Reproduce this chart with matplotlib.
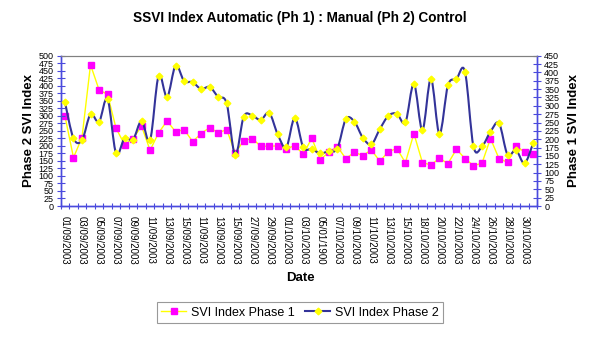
import numpy as np
import matplotlib
matplotlib.use("Agg")
import matplotlib.pyplot as plt
from matplotlib.path import Path
from matplotlib.patches import PathPatch
from matplotlib.lines import Line2D

plt.rcParams['font.family'] = ['Liberation Sans', 'DejaVu Sans']

title = "SSVI Index Automatic (Ph 1) : Manual (Ph 2) Control"

date_labels = [
    "01/09/2003", "03/09/2003", "05/09/2003", "07/09/2003", "09/09/2003",
    "11/09/2003", "13/09/2003", "15/09/2003", "11/09/2003", "13/09/2003",
    "15/09/2003", "27/09/2003", "29/09/2003", "01/10/2003", "03/10/2003",
    "05/01/1900", "07/10/2003", "09/10/2003", "11/10/2003", "13/10/2003",
    "15/10/2003", "18/10/2003", "20/10/2003", "22/10/2003", "24/10/2003",
    "26/10/2003", "28/10/2003", "30/10/2003",
]

# SVI Index Phase 1 (right axis)
phase1_svi = [
    269, 145, 205, 423, 348, 334, 233, 184, 202, 239, 167, 219, 255, 222,
    229, 193, 217, 235, 219, 229, 158, 196, 202, 179, 179, 180, 171, 181,
    155, 203, 139, 161, 178, 142, 161, 151, 168, 134, 163, 172, 130, 217,
    130, 123, 143, 127, 170, 142, 121, 128, 202, 142, 131, 181, 161, 155,
]

# SVI Index Phase 2 (left axis)
phase2_svi = [
    345, 225, 219, 305, 280, 356, 175, 225, 221, 283, 219, 433, 363, 467,
    416, 412, 389, 396, 363, 341, 169, 297, 301, 286, 310, 238, 195, 293,
    195, 189, 175, 183, 191, 289, 281, 227, 205, 256, 300, 307, 278, 406,
    253, 423, 240, 401, 423, 447, 198, 198, 247, 275, 171, 186, 142, 208,
]

n = len(phase1_svi)
x = np.arange(n)

navy = "#333399"
axis_blue = "#4A4ADD"

fig = plt.figure(figsize=(6.0, 3.39), dpi=100)
ax = fig.add_axes([0.1012, 0.3923, 0.7943, 0.4434])
ax2 = ax.twinx()

# Background on ax2, draw ax (Phase 2) on top
ax2.patch.set_facecolor("#C0C0C0")
ax.set_zorder(ax2.get_zorder() + 1)
ax.patch.set_visible(False)

# Phase 1 on right axis
ax2.plot(x, phase1_svi, color="#FFFF00", lw=1.0, marker="s", markersize=4.5,
         markerfacecolor="#FF00FF", markeredgecolor="#FF00FF", zorder=3)

# Phase 2 smoothed line (Bezier through data points) on left axis
y2 = np.asarray(phase2_svi, dtype=float)
pts = np.column_stack([x.astype(float), y2])
verts = [tuple(pts[0])]
codes = [Path.MOVETO]
for i in range(n - 1):
    p0 = pts[i - 1] if i > 0 else pts[i]
    p1 = pts[i]
    p2 = pts[i + 1]
    p3 = pts[i + 2] if i + 2 < n else pts[i + 1]
    c1 = p1 + (p2 - p0) / 6.0
    c2 = p2 - (p3 - p1) / 6.0
    verts += [tuple(c1), tuple(c2), tuple(p2)]
    codes += [Path.CURVE4] * 3
ax.add_patch(PathPatch(Path(verts, codes), fill=False, edgecolor=navy,
                       lw=1.5, zorder=3))
ax.plot(x, phase2_svi, ls="none", marker="D", markersize=3.4,
        markerfacecolor="#FFFF00", markeredgecolor="#FFFF00", zorder=4)

# Axes limits and ticks
ax.set_xlim(-0.5, n - 0.5)
ax.set_ylim(0, 500)
ax2.set_ylim(0, 450)
ax.set_yticks(np.arange(0, 501, 25))
ax2.set_yticks(np.arange(0, 451, 25))

ax.set_xticks(np.arange(-0.5, n, 1.0))
ax.set_xticklabels([])
ax.set_xticks(np.arange(0, n, 2), minor=True)
ax.set_xticklabels(date_labels, minor=True, rotation=-90, fontsize=7)
ax.tick_params(axis="x", which="major", direction="inout", length=5,
               color=axis_blue, width=0.8)
ax.tick_params(axis="x", which="minor", length=0, pad=7)
ax.tick_params(axis="y", direction="inout", length=6, color=axis_blue,
               width=0.8, labelsize=6.5, pad=2)
ax2.tick_params(axis="y", direction="inout", length=6, color=axis_blue,
                width=0.8, labelsize=6.5, pad=2)
ax2.tick_params(axis="x", length=0)

for a in (ax, ax2):
    for s in ("left", "right", "bottom"):
        a.spines[s].set_color(axis_blue)
        a.spines[s].set_linewidth(1.0)
    a.spines["top"].set_color("#808080")
    a.spines["top"].set_linewidth(0.8)

ax.set_ylabel("Phase 2 SVI Index", fontsize=9.5, fontweight="bold", labelpad=3)
ax2.set_ylabel("Phase 1 SVI Index", fontsize=9.5, fontweight="bold", labelpad=6)
fig.text(0.5, 1 - 278 / 339, "Date", ha="center", va="center",
         fontsize=9.5, fontweight="bold")
fig.text(0.5, 1 - 18 / 339, title, ha="center", va="center",
         fontsize=9.8, fontweight="bold")

handles = [
    Line2D([], [], color="#FFFF00", lw=1.0, marker="s", markersize=4.5,
           markerfacecolor="#FF00FF", markeredgecolor="#FF00FF"),
    Line2D([], [], color=navy, lw=1.5, marker="D", markersize=3.4,
           markerfacecolor="#FFFF00", markeredgecolor="#FFFF00"),
]
leg = fig.legend(handles, ["SVI Index Phase 1", "SVI Index Phase 2"],
                 loc="center", bbox_to_anchor=(0.5, 1 - 312.5 / 339), ncol=2,
                 fontsize=9, frameon=True, fancybox=False, handlelength=2.0,
                 handletextpad=0.4, columnspacing=0.8, borderpad=0.35)
leg.get_frame().set_edgecolor("#808080")
leg.get_frame().set_linewidth(0.8)

fig.savefig("out.png", dpi=100)
